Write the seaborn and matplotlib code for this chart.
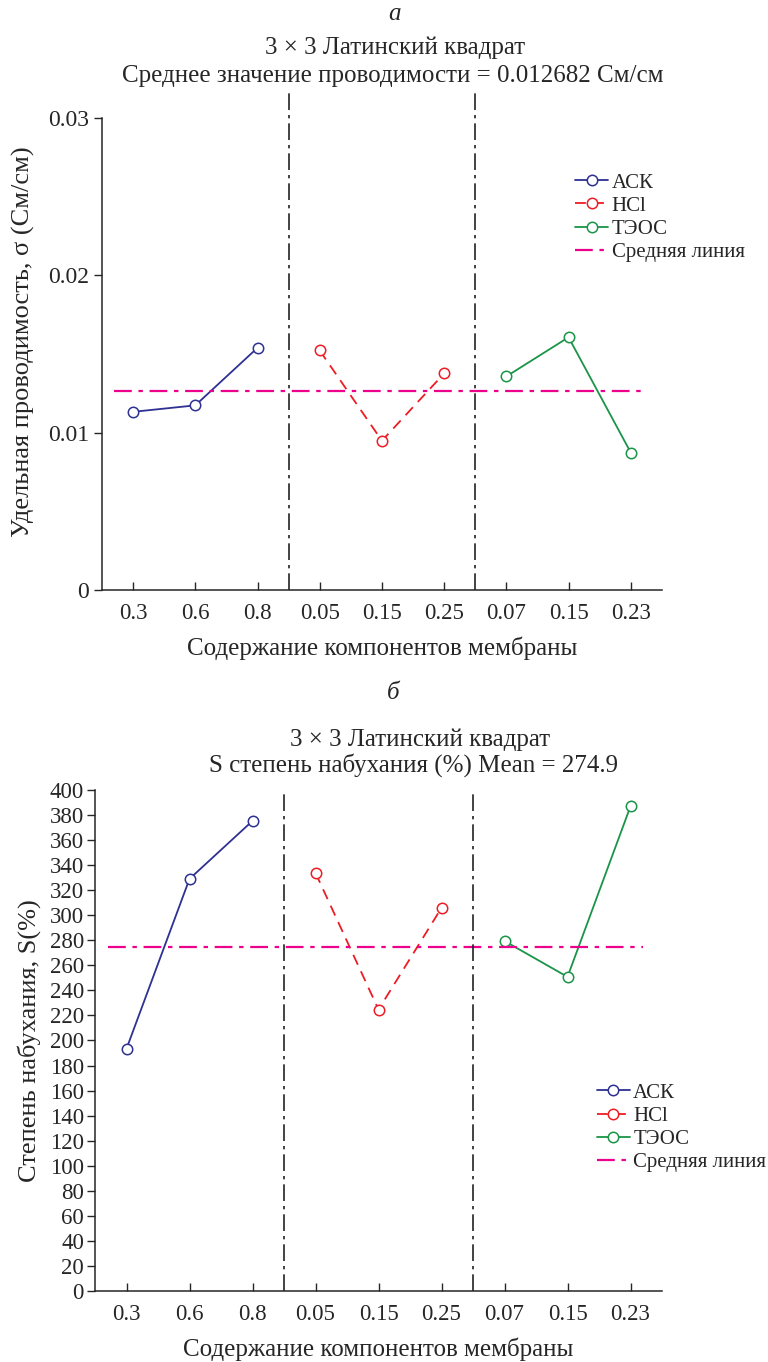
import numpy as np
import pandas as pd
import seaborn as sns
import matplotlib.pyplot as plt

# tick labels for the 9 factor levels (3 factors x 3 levels)
levels = ["0.3", "0.6", "0.8", "0.05", "0.15", "0.25", "0.07", "0.15", "0.23"]
groups = ["АСК", "HCl", "ТЭОС"]

# conductivity, S/cm (panel a)
cond_ack = [0.01133, 0.01174, 0.0154]
cond_hcl = [0.01523, 0.00949, 0.01377]
cond_teos = [0.01358, 0.01607, 0.00874]
cond_mean = 0.012682

# swelling degree, % (panel б)
swell_ack = [193.4, 329.0, 375.3]
swell_hcl = [333.8, 224.7, 305.9]
swell_teos = [279.4, 250.8, 387.0]
swell_mean = 274.9

colors = {"АСК": "#2e3192", "HCl": "#ed1c24", "ТЭОС": "#1a9448"}
styles = {"АСК": "-", "HCl": (0, (6, 4)), "ТЭОС": "-"}
mean_color = "#ec008c"

sns.set_style("ticks")
plt.rcParams["font.family"] = ["Liberation Serif", "DejaVu Serif"]


def make_df(a, b, c):
    vals = list(a) + list(b) + list(c)
    grp = [g for g in groups for _ in range(3)]
    return pd.DataFrame({"pos": np.arange(9), "value": vals, "group": grp})


def draw_panel(ax, df, mean):
    for g in groups:
        sub = df[df["group"] == g]
        sns.lineplot(data=sub, x="pos", y="value", ax=ax, color=colors[g],
                     linestyle=styles[g], linewidth=1.3, marker="o",
                     markersize=7.5, markerfacecolor="white",
                     markeredgecolor=colors[g], markeredgewidth=1.1,
                     label=g)
    ax.hlines(mean, -0.3, 8.2, color=mean_color, linewidth=1.6,
              linestyles=(0, (8, 3, 2, 3)), label="Средняя линия")
    ax.set_xlim(-0.5, 8.5)
    ax.set_xticks(range(9))
    ax.set_xticklabels(levels)
    ax.tick_params(axis="x", labelsize=16.5, length=6, width=1,
                   direction="in", pad=9)
    ax.tick_params(axis="y", length=6, width=1, direction="out")
    for s in ["top", "right"]:
        ax.spines[s].set_visible(False)
    for s in ["left", "bottom"]:
        ax.spines[s].set_linewidth(1.1)
    ax.set_xlabel("Содержание компонентов мембраны", fontsize=18, labelpad=9)


def add_legend(ax, anchor):
    ax.legend(loc="upper left", bbox_to_anchor=anchor, frameon=False,
              fontsize=15, handlelength=1.6, handletextpad=0.15,
              labelspacing=0.17, borderaxespad=0, borderpad=0)


fig = plt.figure(figsize=(7.68, 13.62), dpi=100)

# panel a
ax1 = fig.add_axes([0.1328, 0.5668, 0.729, 0.3649])
df1 = make_df(cond_ack, cond_hcl, cond_teos)
draw_panel(ax1, df1, cond_mean)
ax1.set_ylim(0, 0.0316)
ax1.spines["left"].set_bounds(0, 0.03)
ax1.set_yticks([0, 0.01, 0.02, 0.03])
ax1.set_yticklabels(["0", "0.01", "0.02", "0.03"], fontsize=17)
for xv in [2.5, 5.5]:
    ax1.axvline(xv, color="#222222", linewidth=1.2, linestyle=(0, (10, 3, 2, 3)))
ax1.set_ylabel("Удельная проводимость, σ (См/см)", fontsize=19, labelpad=9)
add_legend(ax1, (0.845, 0.839))

# panel б
ax2 = fig.add_axes([0.1237, 0.0521, 0.7383, 0.3679])
df2 = make_df(swell_ack, swell_hcl, swell_teos)
draw_panel(ax2, df2, swell_mean)
ax2.set_ylim(0, 400)
ax2.set_yticks(range(0, 401, 20))
ax2.tick_params(axis="y", labelsize=16.5, pad=2)
for xv in [2.5, 5.5]:
    ax2.vlines(xv, 0, 397, color="#222222", linewidth=1.2,
               linestyles=(0, (10, 3, 2, 3)))
ax2.set_ylabel("Степень набухания, S(%)", fontsize=19, labelpad=6)
add_legend(ax2, (0.885, 0.415))

# titles
fig.text(0.514, 0.9895, "а", ha="center", va="center", fontsize=18, style="italic")
fig.text(0.515, 0.965, "3 × 3 Латинский квадрат", ha="center", va="center", fontsize=18)
fig.text(0.512, 0.944, "Среднее значение проводимости = 0.012682 См/см",
         ha="center", va="center", fontsize=18)
fig.text(0.512, 0.4915, "б", ha="center", va="center", fontsize=18, style="italic")
fig.text(0.547, 0.4565, "3 × 3 Латинский квадрат", ha="center", va="center", fontsize=18)
fig.text(0.538, 0.4385, "S степень набухания (%) Mean = 274.9",
         ha="center", va="center", fontsize=18)

fig.savefig("out.png", dpi=100)
